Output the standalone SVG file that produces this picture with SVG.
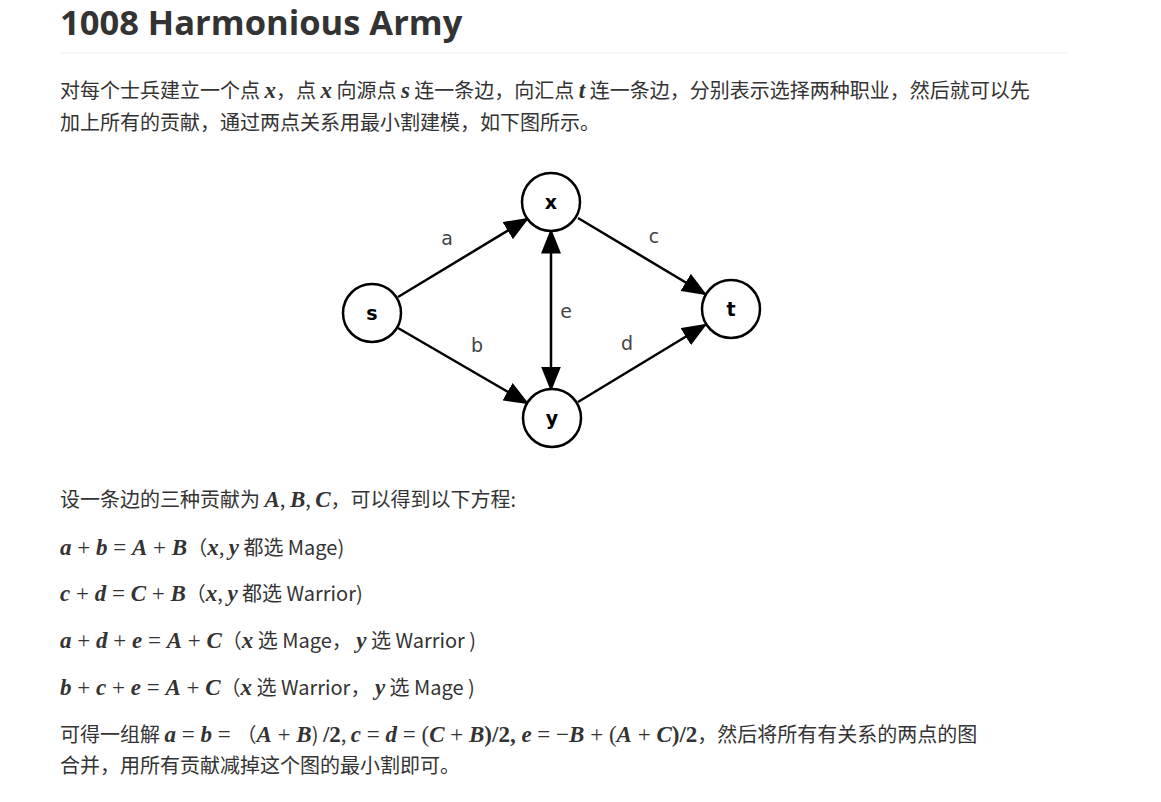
<svg xmlns="http://www.w3.org/2000/svg" width="1161" height="802" viewBox="0 0 1161 802">
<style>
.t{font-family:"Noto Sans CJK SC","Noto Sans",sans-serif;font-size:20px;fill:#333}
.m{font-family:"Liberation Serif",serif;font-style:italic;font-weight:bold;font-size:23px}
.n{font-family:"Liberation Serif",serif;font-size:23px}
.nd{fill:#fff;stroke:#000;stroke-width:2.5}
.nl{font-family:"DejaVu Sans",sans-serif;font-weight:bold;font-size:19px;text-anchor:middle}
.el{font-family:"DejaVu Sans",sans-serif;font-size:19px;fill:#444;text-anchor:middle}
.e{stroke:#000;stroke-width:2.5;fill:none}
</style>
<defs>
<marker id="ar" markerWidth="10" markerHeight="8" refX="9" refY="4" orient="auto" markerUnits="strokeWidth"><path d="M0,0L10,4L0,8z" fill="#000"/></marker>
<marker id="as" markerWidth="10" markerHeight="8" refX="1" refY="4" orient="auto" markerUnits="strokeWidth"><path d="M10,0L0,4L10,8z" fill="#000"/></marker>
</defs>
<rect width="1161" height="802" fill="#fff"/>
<text x="60" y="35" font-family="Open Sans,sans-serif" font-weight="bold" font-size="34.5" fill="#333">1008 Harmonious Army</text>
<line x1="60" y1="53" x2="1067" y2="53" stroke="#eee" stroke-width="1"/>
<text class="t" x="60" y="98">对每个士兵建立一个点 <tspan class="m">x</tspan>，点 <tspan class="m">x</tspan> 向源点 <tspan class="m">s</tspan> 连一条边，向汇点 <tspan class="m">t</tspan> 连一条边，分别表示选择两种职业，然后就可以先</text>
<text class="t" x="60" y="130">加上所有的贡献，通过两点关系用最小割建模，如下图所示。</text>
<g id="edges">
<line class="e" x1="398" y1="297" x2="527" y2="219" marker-end="url(#ar)"/>
<line class="e" x1="578" y1="218" x2="705" y2="294" marker-end="url(#ar)"/>
<line class="e" x1="398" y1="328" x2="527" y2="403" marker-end="url(#ar)"/>
<line class="e" x1="578" y1="402" x2="705" y2="325" marker-end="url(#ar)"/>
<line class="e" x1="551" y1="231" x2="551" y2="389" marker-start="url(#as)" marker-end="url(#ar)"/>
<text class="el" x="447" y="245">a</text>
<text class="el" x="654" y="243">c</text>
<text class="el" x="477" y="352">b</text>
<text class="el" x="627" y="350">d</text>
<text class="el" x="566" y="318">e</text>
</g>
<g id="s"><circle class="nd" cx="372" cy="313" r="29"/><text class="nl" x="372" y="320">s</text></g>
<g id="x"><circle class="nd" cx="551" cy="202" r="29"/><text class="nl" x="551" y="209">x</text></g>
<g id="t"><circle class="nd" cx="731" cy="309" r="29"/><text class="nl" x="731" y="316">t</text></g>
<g id="y"><circle class="nd" cx="552" cy="418" r="29"/><text class="nl" x="552" y="425">y</text></g>
<text class="t" x="60" y="507">设一条边的三种贡献为 <tspan class="m">A</tspan>, <tspan class="m">B</tspan>, <tspan class="m">C</tspan>，可以得到以下方程:</text>
<text class="t" x="60" y="555"><tspan class="m">a</tspan><tspan class="n"> + </tspan><tspan class="m">b</tspan><tspan class="n"> = </tspan><tspan class="m">A</tspan><tspan class="n"> + </tspan><tspan class="m">B</tspan>（<tspan class="m">x</tspan>, <tspan class="m">y</tspan> 都选 Mage)</text>
<text class="t" x="60" y="601"><tspan class="m">c</tspan><tspan class="n"> + </tspan><tspan class="m">d</tspan><tspan class="n"> = </tspan><tspan class="m">C</tspan><tspan class="n"> + </tspan><tspan class="m">B</tspan>（<tspan class="m">x</tspan>, <tspan class="m">y</tspan> 都选 Warrior)</text>
<text class="t" x="60" y="648"><tspan class="m">a</tspan><tspan class="n"> + </tspan><tspan class="m">d</tspan><tspan class="n"> + </tspan><tspan class="m">e</tspan><tspan class="n"> = </tspan><tspan class="m">A</tspan><tspan class="n"> + </tspan><tspan class="m">C</tspan>（<tspan class="m">x</tspan> 选 Mage， <tspan class="m">y</tspan> 选 Warrior )</text>
<text class="t" x="60" y="695"><tspan class="m">b</tspan><tspan class="n"> + </tspan><tspan class="m">c</tspan><tspan class="n"> + </tspan><tspan class="m">e</tspan><tspan class="n"> = </tspan><tspan class="m">A</tspan><tspan class="n"> + </tspan><tspan class="m">C</tspan>（<tspan class="m">x</tspan> 选 Warrior， <tspan class="m">y</tspan> 选 Mage )</text>
<text class="t" x="60" y="742">可得一组解 <tspan class="m">a</tspan><tspan class="n"> = </tspan><tspan class="m">b</tspan><tspan class="n"> = </tspan>（<tspan class="m">A</tspan><tspan class="n"> + </tspan><tspan class="m">B</tspan>) <tspan class="n" font-weight="bold">/2</tspan>, <tspan class="m">c</tspan><tspan class="n"> = </tspan><tspan class="m">d</tspan><tspan class="n"> = (</tspan><tspan class="m">C</tspan><tspan class="n"> + </tspan><tspan class="m">B</tspan><tspan class="n" font-weight="bold">)/2, </tspan><tspan class="m">e</tspan><tspan class="n"> = −</tspan><tspan class="m">B</tspan><tspan class="n"> + (</tspan><tspan class="m">A</tspan><tspan class="n"> + </tspan><tspan class="m">C</tspan><tspan class="n" font-weight="bold">)/2</tspan>，然后将所有有关系的两点的图</text>
<text class="t" x="60" y="773">合并，用所有贡献减掉这个图的最小割即可。</text>
</svg>
